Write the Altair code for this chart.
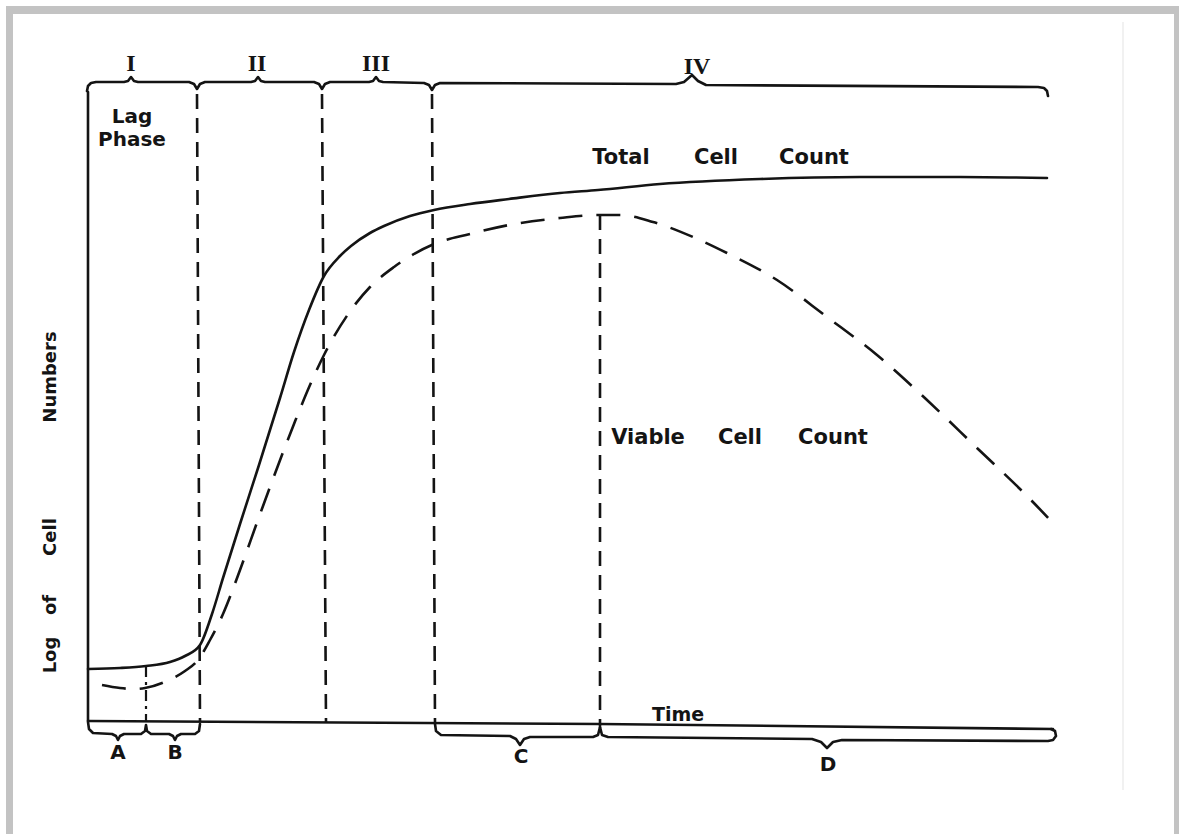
import altair as alt
import pandas as pd

# ---- data (time units t, log-count units L; t=0 at y axis, L=0 at time axis) ----
total_t = [0, 3.2, 5.8, 8.2, 9.7, 11.2, 12.4, 13.5, 15.2, 17.1, 19.2, 20.6, 22.1, 23.6,
           25.2, 26.3, 28.2, 29.6, 32.2, 34.6, 38.2, 42.1, 47.2, 51.0, 57.2, 67.2, 77.2, 87.2, 95.9]
total_L = [5.1, 5.2, 5.4, 5.8, 6.4, 7.5, 10.6, 14.2, 19.6, 25.5, 32.2, 36.8, 41.0, 44.4,
           46.4, 47.4, 48.7, 49.4, 50.4, 51.0, 51.6, 52.1, 52.7, 53.0, 53.6, 54.1, 54.3, 54.3, 54.2]

viable_t = [1.4, 3.2, 4.6, 5.7, 8.1, 9.7, 11.0, 12.2, 13.5, 15.2, 17.1, 20.6, 22.2, 23.6,
            26.3, 28.2, 30.6, 34.6, 38.2, 42.1, 47.2, 51.0, 53.2, 56.5, 60.5, 63.9, 68.9,
            73.9, 78.9, 83.9, 88.9, 93.9, 96.5]
viable_L = [3.5, 3.2, 3.1, 3.2, 4.0, 4.9, 6.0, 8.0, 10.6, 15.0, 20.3, 29.6, 33.5, 36.5,
            41.0, 43.3, 45.3, 47.6, 48.6, 49.5, 50.2, 50.5, 50.5, 49.8, 48.3, 46.7, 44.0,
            40.3, 36.5, 32.0, 27.2, 22.4, 19.7]

# axes drawn as lines
axis_left_t = [0, 0]
axis_left_L = [62.8, -0.1]
axis_bottom_t = [0, 51.2, 96.5]
axis_bottom_L = [-0.1, -0.4, -0.9]

# top brace (phases I-IV)
top_brace_t = [-0.1, 0.0, 0.3, 0.8, 3.6, 4.0, 4.3, 4.6, 5.0, 10.1, 10.6, 10.9, 11.2, 11.7,
               16.3, 16.7, 17.0, 17.3, 17.7, 22.6, 23.1, 23.4, 23.7, 24.2, 28.1, 28.5, 28.8,
               29.1, 29.5, 33.6, 34.1, 34.4, 34.7, 35.2, 58.8, 59.6, 60.4, 61.0, 61.8, 95.0,
               95.6, 95.9, 96.0]
top_brace_L = [62.9, 63.4, 63.7, 63.8, 63.8, 63.9, 64.3, 63.9, 63.8, 63.8, 63.6, 63.1, 63.6,
               63.8, 63.8, 63.9, 64.3, 63.9, 63.8, 63.8, 63.6, 63.1, 63.6, 63.8, 63.8, 63.9,
               64.3, 63.9, 63.8, 63.7, 63.5, 63.0, 63.5, 63.7, 63.6, 63.8, 64.5, 63.9, 63.5,
               63.3, 63.2, 62.9, 62.4]

# bottom braces A+B, C, D
brace_ab_t = [0, 0.1, 0.5, 2.4, 2.8, 3.0, 3.2, 3.6, 5.3, 5.7, 5.8, 5.9, 6.3, 8.1, 8.5, 8.7,
              8.9, 9.3, 10.7, 11.1, 11.2]
brace_ab_L = [-0.2, -0.9, -1.3, -1.4, -1.6, -2.0, -1.6, -1.4, -1.4, -1.1, -0.5, -1.1, -1.4,
              -1.4, -1.6, -2.0, -1.6, -1.4, -1.4, -1.1, -0.4]
brace_c_t = [34.7, 34.8, 35.3, 42.2, 42.8, 43.2, 43.6, 44.2, 50.5, 51.0, 51.2]
brace_c_L = [-0.4, -1.1, -1.5, -1.6, -1.9, -2.5, -1.9, -1.7, -1.7, -1.5, -0.7]
brace_d_t = [51.2, 51.4, 52.0, 72.4, 73.3, 73.9, 74.5, 75.4, 96.0, 96.5, 96.8, 96.7, 96.3]
brace_d_L = [-0.7, -1.5, -1.7, -1.9, -2.2, -2.8, -2.2, -2.0, -2.1, -2.0, -1.6, -1.1, -0.9]

# vertical phase boundaries (dashed) : start (t, L) -> end (t2, L2)
vlines_t = [10.9, 23.4, 34.4, 51.2]
vlines_L = [62.6, 62.6, 62.6, 50.5]
vlines_t2 = [11.2, 23.8, 34.7, 51.2]
vlines_L2 = [-0.2, -0.3, -0.4, -0.6]
# A/B boundary (dash-dot)
ab_t, ab_L, ab_t2, ab_L2 = 5.8, 5.4, 5.8, -0.2

# labels
roman_text = ["I", "II", "III", "IV"]
roman_t = [4.3, 16.9, 28.8, 60.9]
roman_L = [65.6, 65.6, 65.6, 65.3]

letter_text = ["A", "B", "C", "D"]
letter_t = [3.0, 8.7, 43.3, 74.0]
letter_L = [-3.3, -3.3, -3.7, -4.5]

lag_text = ["Lag", "Phase"]
lag_t = [4.4, 4.4]
lag_L = [60.3, 58.0]

curve_words = ["Total", "Cell", "Count", "Viable", "Cell", "Count"]
curve_words_t = [53.3, 62.8, 72.6, 56.0, 65.2, 74.5]
curve_words_L = [56.2, 56.2, 56.2, 28.2, 28.2, 28.2]

time_text = ["Time"]
time_t = [59.0]
time_L = [0.5]

ytitle_words = ["Log", "of", "Cell", "Numbers"]
ytitle_t = [-3.7, -3.7, -3.7, -3.7]
ytitle_L = [6.5, 11.5, 18.3, 34.3]

# ---- scales ----
XS = alt.Scale(domain=[0, 100], range=[75, 1075], nice=False, zero=False)
YS = alt.Scale(domain=[0, 70], range=[706, 6], nice=False, zero=False)
INK = "#141414"


def enc_xy():
    return dict(x=alt.X("t:Q", scale=XS, axis=None), y=alt.Y("L:Q", scale=YS, axis=None))


def path_df(name, ts, ls):
    return pd.DataFrame({"path": name, "i": range(len(ts)), "t": ts, "L": ls})


paths = pd.concat([
    path_df("axis_left", axis_left_t, axis_left_L),
    path_df("axis_bottom", axis_bottom_t, axis_bottom_L),
    path_df("top_brace", top_brace_t, top_brace_L),
    path_df("brace_ab", brace_ab_t, brace_ab_L),
    path_df("brace_c", brace_c_t, brace_c_L),
    path_df("brace_d", brace_d_t, brace_d_L),
], ignore_index=True)

frame_top = alt.Chart(alt.Data(values=[{"k": 1}])).mark_rect(color="white").encode(
    x=alt.value(-13), x2=alt.value(1166), y=alt.value(-14), y2=alt.value(-8))
frame_left = alt.Chart(alt.Data(values=[{"k": 1}])).mark_rect(color="white").encode(
    x=alt.value(-13), x2=alt.value(-7), y=alt.value(-14), y2=alt.value(820))

faint = alt.Chart(pd.DataFrame({"t": [103.5], "L": [69.8], "t2": [103.5], "L2": [-7.0]})).mark_rule(
    color="#ededed", strokeWidth=1.5).encode(**enc_xy(), x2="t2:Q", y2="L2:Q")

path_layer = alt.Chart(paths).mark_line(
    color=INK, strokeWidth=2.6, strokeJoin="round", strokeCap="round").encode(
    **enc_xy(), detail="path:N", order="i:Q")

total_layer = alt.Chart(pd.DataFrame({"t": total_t, "L": total_L})).mark_line(
    color=INK, strokeWidth=2.6, interpolate="monotone", strokeCap="round").encode(**enc_xy())

viable_layer = alt.Chart(pd.DataFrame({"t": viable_t, "L": viable_L})).mark_line(
    color=INK, strokeWidth=2.6, interpolate="monotone", strokeDash=[24, 14]).encode(**enc_xy())

vl_df = pd.DataFrame({"t": vlines_t, "L": vlines_L, "t2": vlines_t2, "L2": vlines_L2})
vline_layer = alt.Chart(vl_df).mark_rule(color=INK, strokeWidth=2.6, strokeDash=[15, 9]).encode(
    **enc_xy(), x2="t2:Q", y2="L2:Q")

ab_layer = alt.Chart(pd.DataFrame({"t": [ab_t], "L": [ab_L], "t2": [ab_t2], "L2": [ab_L2]})).mark_rule(
    color=INK, strokeWidth=2.2, strokeDash=[11, 5, 3, 5]).encode(**enc_xy(), x2="t2:Q", y2="L2:Q")


def text_layer(texts, ts, ls, size, font="DejaVu Sans", weight="bold", angle=0):
    df = pd.DataFrame({"txt": texts, "t": ts, "L": ls})
    kw = dict(font=font, fontSize=size, fontWeight=weight, color=INK, align="center",
              baseline="middle")
    if angle:
        kw["angle"] = angle
    return alt.Chart(df).mark_text(**kw).encode(**enc_xy(), text="txt:N")


roman_layer = text_layer(roman_text, roman_t, roman_L, 24, font="Liberation Serif")
letter_layer = text_layer(letter_text, letter_t, letter_L, 20)
lag_layer = text_layer(lag_text, lag_t, lag_L, 20)
words_layer = text_layer(curve_words, curve_words_t, curve_words_L, 21)
time_layer = text_layer(time_text, time_t, time_L, 19)
ytitle_layer = text_layer(ytitle_words, ytitle_t, ytitle_L, 18, angle=270)

chart = alt.layer(
    frame_top, frame_left, faint, path_layer, total_layer, viable_layer, vline_layer, ab_layer,
    roman_layer, letter_layer, lag_layer, words_layer, time_layer, ytitle_layer,
).properties(
    width=1161, height=820, autosize="none",
    padding={"left": 13, "top": 14, "right": 5, "bottom": 0},
    background="#c3c3c3",
).configure_view(fill="white", stroke=None)

chart.save("out.html", embed_options={"renderer": "svg", "actions": False})
